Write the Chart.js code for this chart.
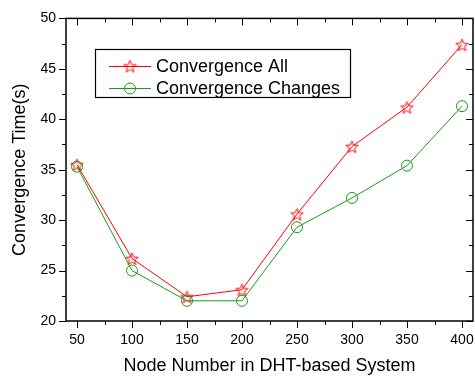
<!DOCTYPE html>
<html>
<head>
<meta charset="utf-8">
<script src="https://cdn.jsdelivr.net/npm/chart.js@4"></script>
<style>
  html, body { margin: 0; padding: 0; background: #fff; }
  #wrap { width: 475px; height: 378px; }
</style>
</head>
<body>
<div id="wrap"><canvas id="chart" width="475" height="378"></canvas></div>
<script>
// data
const nodeNumbers = [50, 100, 150, 200, 250, 300, 350, 400];
const convergenceAll = [35.5, 26.2, 22.4, 23.1, 30.6, 37.3, 41.2, 47.4];
const convergenceChanges = [35.3, 25.0, 22.0, 22.0, 29.3, 32.2, 35.4, 41.3];
const seriesNames = ['Convergence All', 'Convergence Changes'];

const RED = '#ff0000';
const GREEN = '#1a9a1a';
const FONT = 'Liberation Sans, Arial, sans-serif';

// hollow five-point star used as the marker of the first series
function makeStar(size, color) {
  const c = document.createElement('canvas');
  c.width = size;
  c.height = size;
  const g = c.getContext('2d');
  const cx = size / 2, cy = size / 2;
  const outer = size / 2 - 1, inner = outer * 0.42;
  g.beginPath();
  for (let i = 0; i < 10; i++) {
    const r = i % 2 === 0 ? outer : inner;
    const a = -Math.PI / 2 + i * Math.PI / 5;
    const x = cx + r * Math.cos(a), y = cy + r * Math.sin(a) + 0.8;
    if (i === 0) g.moveTo(x, y); else g.lineTo(x, y);
  }
  g.closePath();
  g.strokeStyle = color;
  g.lineWidth = 1;
  g.stroke();
  return c;
}
const starImg = makeStar(15, RED);

function pairs(xs, ys) {
  return xs.map((x, i) => ({ x: x, y: ys[i] }));
}

// frame + ticks drawn Origin-style: outward on left/bottom, inward on top/right
const framePlugin = {
  id: 'frame',
  afterDraw(chart) {
    const ctx = chart.ctx;
    const a = chart.chartArea;
    const xs = chart.scales.x, ys = chart.scales.y;
    ctx.save();
    ctx.strokeStyle = '#000';
    ctx.lineWidth = 1.5;
    ctx.strokeRect(a.left, a.top, a.right - a.left, a.bottom - a.top);
    ctx.lineWidth = 1;
    ctx.beginPath();
    for (let v = 50; v <= 400; v += 25) {
      const px = Math.round(xs.getPixelForValue(v)) + 0.5;
      const len = v % 50 === 0 ? 7 : 4;
      ctx.moveTo(px, a.bottom); ctx.lineTo(px, a.bottom + len);
      ctx.moveTo(px, a.top); ctx.lineTo(px, a.top + len);
    }
    for (let v = 20; v <= 50; v += 2.5) {
      const py = Math.round(ys.getPixelForValue(v)) + 0.5;
      const len = v % 5 === 0 ? 7 : 4;
      ctx.moveTo(a.left, py); ctx.lineTo(a.left - len, py);
      ctx.moveTo(a.right, py); ctx.lineTo(a.right - len, py);
    }
    ctx.stroke();

    // legend box
    const bx = 95.5, by = 49.5, bw = 255, bh = 48;
    ctx.lineWidth = 1.2;
    ctx.strokeRect(bx, by, bw, bh);
    const rows = [
      { y: 66, color: RED, name: seriesNames[0], star: true },
      { y: 88, color: GREEN, name: seriesNames[1], star: false }
    ];
    ctx.font = '18px ' + FONT;
    ctx.textBaseline = 'middle';
    rows.forEach(r => {
      ctx.strokeStyle = r.color;
      ctx.lineWidth = 1;
      ctx.beginPath();
      ctx.moveTo(109, r.y + 0.5);
      ctx.lineTo(151, r.y + 0.5);
      ctx.stroke();
      if (r.star) {
        ctx.drawImage(starImg, 130 - 7.5, r.y - 7.5);
      } else {
        ctx.beginPath();
        ctx.arc(130, r.y + 0.5, 5.5, 0, Math.PI * 2);
        ctx.stroke();
      }
      ctx.fillStyle = '#000';
      ctx.fillText(r.name, 156, r.y + 1);
    });
    ctx.restore();
  }
};

new Chart(document.getElementById('chart'), {
  type: 'line',
  data: {
    datasets: [
      {
        label: seriesNames[0],
        data: pairs(nodeNumbers, convergenceAll),
        borderColor: RED,
        borderWidth: 1,
        pointStyle: starImg,
        order: 1
      },
      {
        label: seriesNames[1],
        data: pairs(nodeNumbers, convergenceChanges),
        borderColor: GREEN,
        borderWidth: 1,
        pointStyle: 'circle',
        pointRadius: 5.5,
        pointBorderWidth: 1,
        pointBackgroundColor: 'rgba(0,0,0,0)',
        pointBorderColor: GREEN,
        order: 0
      }
    ]
  },
  options: {
    responsive: false,
    animation: false,
    layout: { autoPadding: false, padding: { top: 17, right: 2, left: 0, bottom: 0 } },
    plugins: {
      legend: { display: false },
      tooltip: { enabled: false }
    },
    scales: {
      x: {
        type: 'linear',
        min: 40,
        max: 410,
        afterBuildTicks: s => { s.ticks = nodeNumbers.map(v => ({ value: v })); },
        afterFit: s => { s.height = 57; s.paddingLeft = 0; s.paddingRight = 0; },
        grid: { display: false, drawTicks: false },
        border: { display: false },
        ticks: { color: '#000', font: { family: FONT, size: 14 }, padding: 11, maxRotation: 0 },
        title: {
          display: true,
          text: 'Node Number in DHT-based System',
          color: '#000',
          font: { family: FONT, size: 18 },
          padding: { top: 0, bottom: 1 }
        }
      },
      y: {
        min: 20,
        max: 50,
        ticks: { stepSize: 5, color: '#000', font: { family: FONT, size: 14 }, padding: 10 },
        afterFit: s => { s.width = 66; },
        grid: { display: false, drawTicks: false },
        border: { display: false },
        title: {
          display: true,
          text: 'Convergence Time(s)',
          color: '#000',
          font: { family: FONT, size: 18 },
          padding: { top: 9, bottom: 0 }
        }
      }
    }
  },
  plugins: [framePlugin]
});
</script>
</body>
</html>
